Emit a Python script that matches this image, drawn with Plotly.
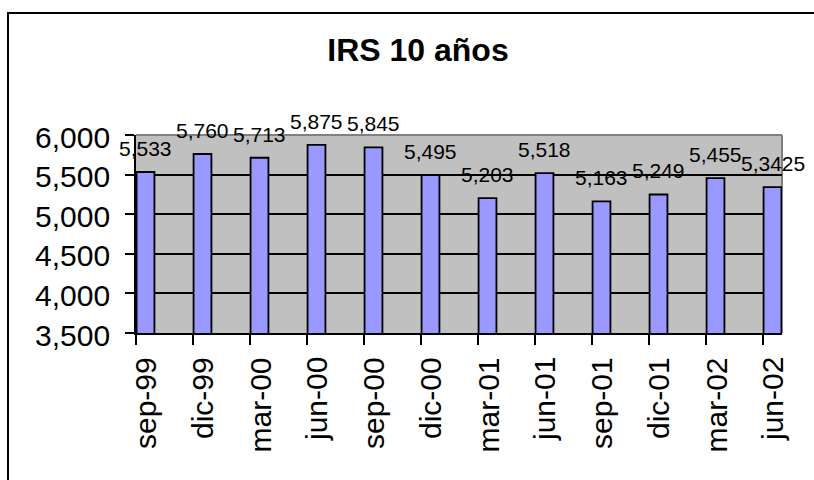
import plotly.graph_objects as go

# ---- data ----
categories = ["sep-99", "dic-99", "mar-00", "jun-00", "sep-00", "dic-00",
              "mar-01", "jun-01", "sep-01", "dic-01", "mar-02", "jun-02"]
values = [5.533, 5.760, 5.713, 5.875, 5.845, 5.495,
          5.203, 5.518, 5.163, 5.249, 5.455, 5.3425]
y_ticks = [3.5, 4.0, 4.5, 5.0, 5.5, 6.0]
title_text = "IRS 10 años"

MONTHS = {"ene": 1, "feb": 2, "mar": 3, "abr": 4, "may": 5, "jun": 6,
          "jul": 7, "ago": 8, "sep": 9, "oct": 10, "nov": 11, "dic": 12}


def month_number(label):
    mon, yy = label.split("-")
    yy = int(yy)
    year = 1900 + yy if yy >= 50 else 2000 + yy
    return year * 12 + MONTHS[mon]


first = month_number(categories[0])
x_idx = [month_number(c) - first for c in categories]   # month slots (date axis)
x_center = [x + 0.5 for x in x_idx]
x_range = [0, x_idx[-1] + 1]


def fmt(v, nd=3):
    s = f"{v:.{nd}f}" if round(v, nd) == v else repr(v)
    return s.replace(".", ",")


labels = [fmt(v) for v in values]
y_tick_text = [fmt(v) for v in y_ticks]

FONT = "Liberation Sans, Arial, sans-serif"

fig = go.Figure()
fig.add_trace(go.Bar(
    x=x_idx, y=values, offset=0.03, width=0.94,
    marker=dict(color="#9999FF", line=dict(color="black", width=1.8)),
    hoverinfo="skip", showlegend=False,
))

# data labels
for xc, v, lab in zip(x_center, values, labels):
    fig.add_annotation(
        x=xc, y=v, xref="x", yref="y", text=lab, showarrow=False,
        yanchor="bottom", yshift=10, font=dict(family=FONT, size=21, color="black"),
    )

# category labels (rotated, centred in each month slot)
for xc, cat in zip(x_center, categories):
    fig.add_annotation(
        x=xc, y=0, xref="x", yref="paper", text=cat, showarrow=False,
        textangle=-90, xanchor="center", yanchor="top", yshift=-22.5,
        font=dict(family=FONT, size=30, color="black"),
    )

# value-axis labels
for yv, yt in zip(y_ticks, y_tick_text):
    fig.add_annotation(
        x=0, y=yv, xref="paper", yref="y", text=yt, showarrow=False,
        xanchor="right", yanchor="middle", xshift=-24, yshift=-2,
        font=dict(family=FONT, size=30, color="black"),
    )

L, R, T, B = 136, 32, 135, 147
W = 814 - L - R
H = 480 - T - B

fig.update_layout(
    width=814, height=480,
    margin=dict(l=L, r=R, t=T, b=B, pad=0),
    paper_bgcolor="white", plot_bgcolor="#C0C0C0",
    separators=",.",
    bargap=0,
    title=dict(text="<b>" + title_text + "</b>", x=418 / 814, xanchor="center",
               xref="container", yref="container", y=1 - 50 / 480, yanchor="middle",
               font=dict(family=FONT, size=32, color="black")),
    xaxis=dict(range=x_range, tickvals=x_idx, showticklabels=False,
               ticks="outside", ticklen=10, tickwidth=2, tickcolor="black",
               showgrid=False, zeroline=False,
               showline=True, linecolor="black", linewidth=2),
    yaxis=dict(range=[y_ticks[0], y_ticks[-1]], tickvals=y_ticks, showticklabels=False,
               ticks="outside", ticklen=9, tickwidth=2, tickcolor="black",
               showgrid=True, gridcolor="black", gridwidth=2, zeroline=False,
               showline=True, linecolor="black", linewidth=2),
)

# plot-area gray border (top and right)
fig.add_shape(type="line", xref="paper", yref="paper", x0=0, x1=1, y0=1, y1=1,
              line=dict(color="#808080", width=2), layer="above")
fig.add_shape(type="line", xref="paper", yref="paper", x0=1, x1=1, y0=0, y1=1,
              line=dict(color="#808080", width=2), layer="below")
# chart-area outer border
fig.add_shape(type="rect", xref="paper", yref="paper",
              x0=(8 - L) / W, x1=(900 - L) / W,
              y0=-(600 - (480 - B)) / H, y1=((480 - B) - 13) / H,
              line=dict(color="black", width=2), fillcolor="rgba(0,0,0,0)", layer="above")

fig.write_html("out.html", config={"displayModeBar": False, "staticPlot": True},
               post_script="document.body.style.margin='0';")
